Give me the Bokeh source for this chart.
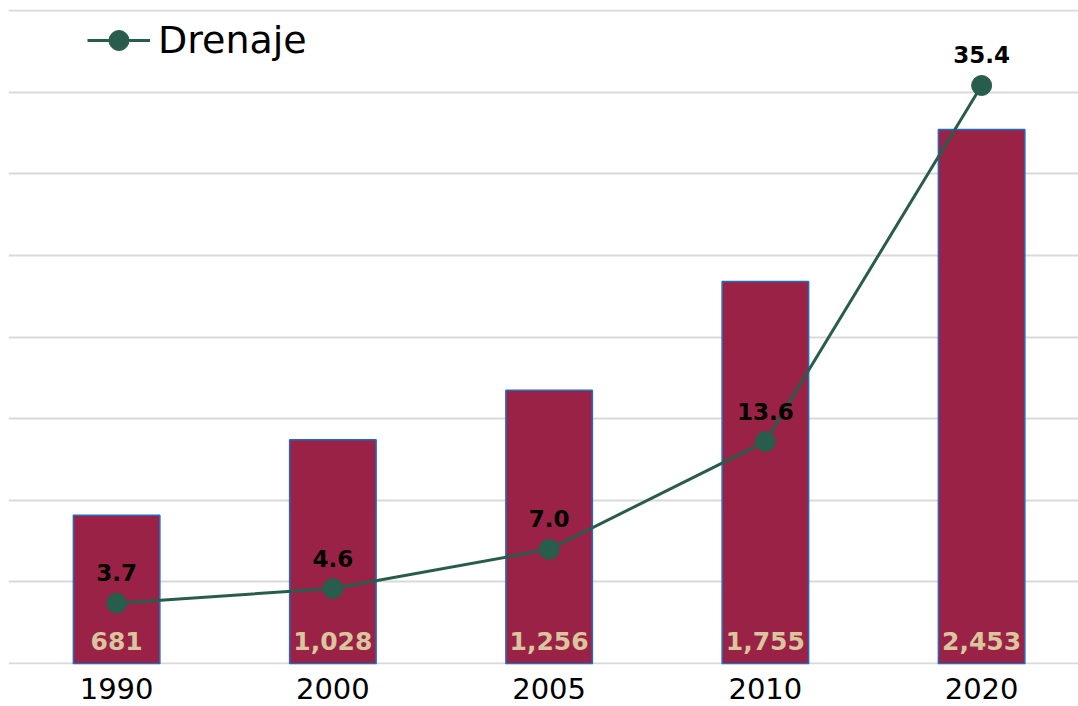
from bokeh.plotting import figure
from bokeh.models import (ColumnDataSource, Range1d, FixedTicker,
                          Legend, LegendItem, LabelSet)
from bokeh.core.properties import value
from bokeh.embed import file_html
from bokeh.resources import INLINE

years = ["1990", "2000", "2005", "2010", "2020"]
bar_values = [681, 1028, 1256, 1755, 2453]
bar_labels = ["681", "1,028", "1,256", "1,755", "2,453"]
line_values = [3.7, 4.6, 7.0, 13.6, 35.4]
line_labels = ["3.7", "4.6", "7.0", "13.6", "35.4"]
series_name = "Drenaje"

FONT = "DejaVu Sans"
BAR_COLOR = "#9B2247"
BAR_EDGE = "#1E6DC2"
LINE_COLOR = "#285C4D"
LABEL_BEIGE = "#D9C69E"

xs = list(range(len(years)))
src = ColumnDataSource(dict(x=xs, bar=bar_values, bar_lbl=bar_labels,
                            zero=[0] * len(xs),
                            line=line_values, line_lbl=line_labels))

p = figure(width=1078, height=706, output_backend="svg", toolbar_location=None,
           x_range=Range1d(-0.5, 4.448), y_range=Range1d(-4, 3004),
           min_border_left=8, min_border_right=0, min_border_top=9,
           min_border_bottom=42)
p.extra_y_ranges = {"line": Range1d(-4 / 75, 40 + 4 / 75)}
p.outline_line_color = None
p.background_fill_color = "white"

p.vbar(x="x", top="bar", width=0.40, source=src, fill_color=BAR_COLOR,
       line_color=BAR_EDGE, line_width=1.5)

lr = p.line(x="x", y="line", source=src, y_range_name="line",
            line_color=LINE_COLOR, line_width=3)
sr = p.scatter(x="x", y="line", source=src, y_range_name="line", size=20,
               fill_color=LINE_COLOR, line_color=LINE_COLOR)

p.add_layout(LabelSet(x="x", y="zero", text="bar_lbl", source=src,
                      text_align="center", text_baseline="alphabetic",
                      y_offset=14, text_font=value(FONT), text_font_style="bold",
                      text_font_size="25px", text_color=LABEL_BEIGE))
p.add_layout(LabelSet(x="x", y="line", text="line_lbl", source=src,
                      y_range_name="line",
                      text_align="center", text_baseline="alphabetic",
                      y_offset=22, text_font=value(FONT), text_font_style="bold",
                      text_font_size="23px", text_color="black"))

# axes
p.yaxis.visible = False
p.yaxis.ticker = FixedTicker(ticks=[i * 375 for i in range(9)])
p.ygrid.ticker = FixedTicker(ticks=[i * 375 for i in range(9)])
p.ygrid.grid_line_color = "#D9D9D9"
p.ygrid.grid_line_width = 2
p.xgrid.grid_line_color = None

p.xaxis.ticker = FixedTicker(ticks=xs)
p.xaxis.major_label_overrides = {i: y for i, y in enumerate(years)}
p.xaxis.axis_line_color = None
p.xaxis.major_tick_line_color = None
p.xaxis.minor_tick_line_color = None
p.xaxis.major_tick_out = 0
p.xaxis.major_label_standoff = 13
p.xaxis.major_label_text_font = FONT
p.xaxis.major_label_text_font_size = "29px"
p.xaxis.major_label_text_color = "black"

legend = Legend(items=[LegendItem(label=series_name, renderers=[lr, sr])],
                location=(79, 599), padding=0, margin=0, spacing=0,
                glyph_width=63, glyph_height=50, label_standoff=8,
                label_text_font=FONT, label_text_font_size="38px",
                label_text_color="black",
                border_line_alpha=0, background_fill_alpha=0)
p.add_layout(legend)

open("out.html", "w").write(file_html(p, INLINE))
